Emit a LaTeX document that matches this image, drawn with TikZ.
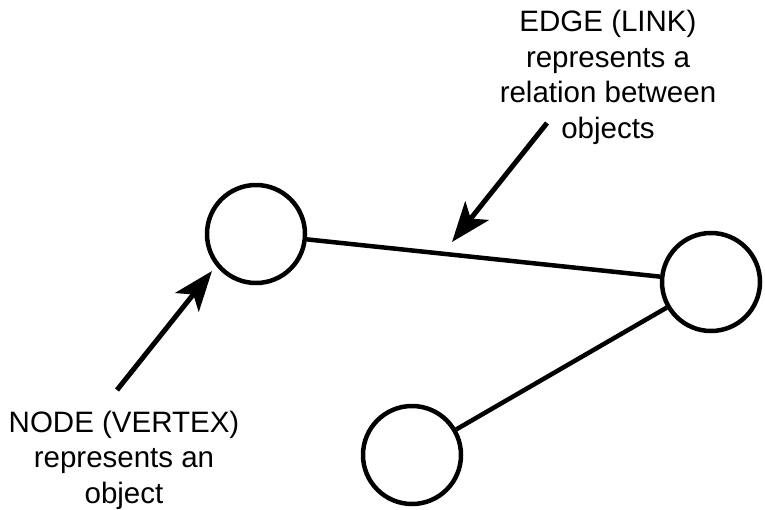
\documentclass[tikz,border=0pt]{standalone}
\usepackage{fontspec}
\setmainfont{Liberation Sans}
\usetikzlibrary{arrows.meta}
\begin{document}
\begin{tikzpicture}[x=1pt,y=-1pt,
  vertex/.style={circle,draw,line width=4.5pt,minimum size=98pt,inner sep=0pt,fill=white},
  link/.style={line width=4.5pt},
  pointer/.style={line width=5pt,-{Stealth[length=40pt,width=30pt,inset=10pt]}},
  caption/.style={align=center,inner sep=0pt,anchor=north,
    font=\fontsize{29.5}{35.5}\selectfont}]
  \useasboundingbox (0,0) rectangle (765,509);
  % graph
  \node[vertex] (A) at (256,234) {};
  \node[vertex] (B) at (711,282) {};
  \node[vertex] (C) at (412,455) {};
  \draw[link] (A) -- (B);
  \draw[link] (C) -- (B);
  % explanatory labels
  \node[caption] (edgelabel) at (608,10) {EDGE (LINK)\\represents a\\relation between\\objects};
  \node[caption] (nodelabel) at (124,410.5) {NODE (VERTEX)\\represents an\\object};
  \coordinate (edgetail) at (547,123);
  \coordinate (edgetip) at (452,242);
  \coordinate (nodetail) at (117,390);
  \coordinate (nodetip) at (212,271);
  \draw[pointer] (edgetail) -- (edgetip);
  \draw[pointer] (nodetail) -- (nodetip);
\end{tikzpicture}
\end{document}
